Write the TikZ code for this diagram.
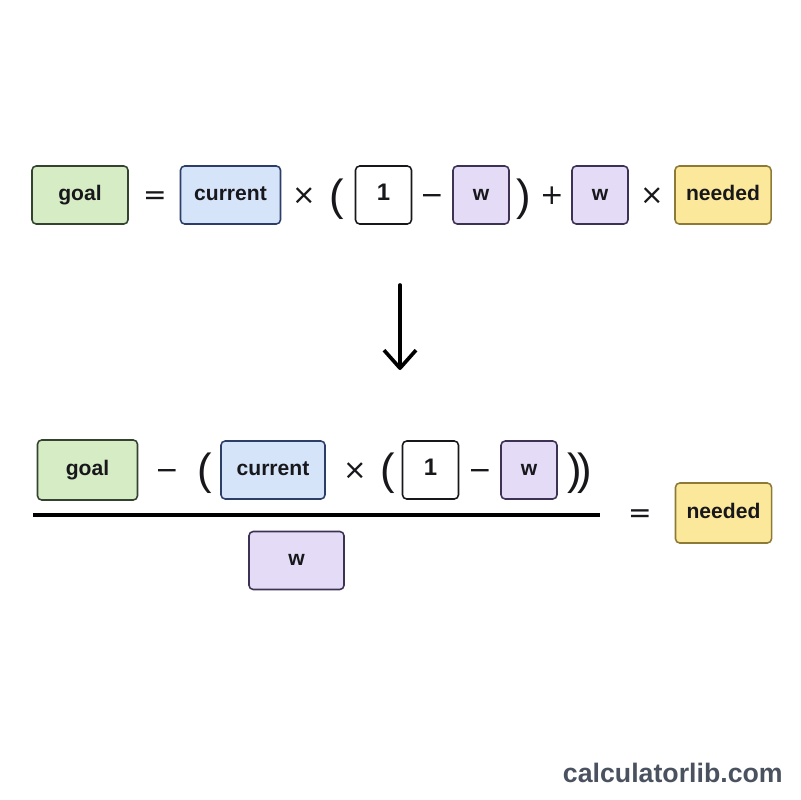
\documentclass[tikz,border=0pt]{standalone}
\usepackage{fontspec}
\setmainfont{Liberation Sans}
\newfontfamily\opfont{DejaVu Sans}
\usepackage{xcolor}
\usetikzlibrary{arrows.meta, positioning}
\definecolor{inkdark}{RGB}{24, 24, 28}
\definecolor{goalfill}{RGB}{214, 236, 196}
\definecolor{goaledge}{RGB}{52, 66, 48}
\definecolor{curfill}{RGB}{214, 228, 250}
\definecolor{curedge}{RGB}{44, 62, 104}
\definecolor{wfill}{RGB}{228, 220, 246}
\definecolor{wedge}{RGB}{62, 50, 84}
\definecolor{needfill}{RGB}{252, 232, 154}
\definecolor{neededge}{RGB}{140, 122, 54}
\definecolor{markgray}{RGB}{74, 82, 96}

\begin{document}
\begin{tikzpicture}[
        x=0.025cm, y=-0.025cm,
        box/.style={rectangle, rounded corners=3pt, line width=1.1pt,
                    minimum height=1.45cm, align=center, text=inkdark,
                    text height=0.73em, text depth=0pt,
                    font=\fontsize{15}{18}\selectfont\bfseries},
        goalbox/.style={box, draw=goaledge, fill=goalfill, minimum width=2.4cm},
        curbox/.style={box, draw=curedge, fill=curfill, minimum width=2.5cm},
        onebox/.style={box, draw=inkdark, fill=white, minimum width=1.4cm,
                    font=\fontsize{17}{20}\selectfont\bfseries},
        wbox/.style={box, draw=wedge, fill=wfill, minimum width=1.4cm},
        needbox/.style={box, draw=neededge, fill=needfill, minimum width=2.4cm},
        opsym/.style={inner sep=0pt, anchor=base, text=inkdark,
                    font=\opfont\fontsize{20}{24}\selectfont},
        paren/.style={inner sep=0pt, text=inkdark,
                    font=\fontsize{31}{36}\selectfont}
      ]
        \useasboundingbox[fill=white] (0,0) rectangle (800,800);

        % first form
        \node[goalbox] (goal1) at (80,195) {goal};
        \node[opsym]   (eq1) at (155,205) {=};
        \node[curbox]  (cur1) at (230.5,195) {current};
        \node[opsym]   (times1) at (304,204) {×};
        \node[paren]   (lp1) at (337,199) {(};
        \node[onebox]  (one1) at (383.5,195) {1};
        \node[opsym]   (minus1) at (432,204) {−};
        \node[wbox]    (w1) at (481,195) {w};
        \node[paren]   (rp1) at (524,199) {)};
        \node[opsym]   (plus1) at (552,204) {+};
        \node[wbox]    (w2) at (600,195) {w};
        \node[opsym]   (times2) at (652,204) {×};
        \node[needbox] (need1) at (723,195) {needed};

        % rearrange
        \coordinate (arrtop) at (400,285);
        \coordinate (arrtip) at (400,370);
        \draw[line width=2.6pt, line cap=round, line join=round,
              -{Straight Barb[length=0.45cm, width=0.8cm, line join=round]}]
              (arrtop) -- (arrtip);

        % solved form
        \node[goalbox, minimum width=2.5cm, minimum height=1.5cm] (goal2) at (87.5,470) {goal};
        \node[opsym]   (minus2) at (167,479) {−};
        \node[paren]   (lp2) at (205,473) {(};
        \node[curbox, minimum width=2.6cm] (cur2) at (273,470) {current};
        \node[opsym]   (times3) at (355,479) {×};
        \node[paren]   (lp3) at (388,473) {(};
        \node[onebox]  (one2) at (430.5,470) {1};
        \node[opsym]   (minus3) at (480,479) {−};
        \node[wbox]    (w3) at (529,470) {w};
        \node[paren]   (rp2) at (580,473) {)\kern-3pt)};

        \coordinate (fracl) at (33,515);
        \coordinate (fracr) at (600,515);
        \draw[line width=2.3pt] (fracl) -- (fracr);

        \node[wbox, minimum width=2.375cm] (w4) at (296.5,560.5) {w};
        \node[opsym]   (eq2) at (640,522) {=};
        \node[needbox, minimum height=1.5cm] (need2) at (723.5,513) {needed};

        \node[anchor=east, inner sep=0pt, text=markgray,
              font=\fontsize{19}{22}\selectfont\bfseries] (mark) at (783,773) {calculatorlib.com};
      \end{tikzpicture}
\end{document}
